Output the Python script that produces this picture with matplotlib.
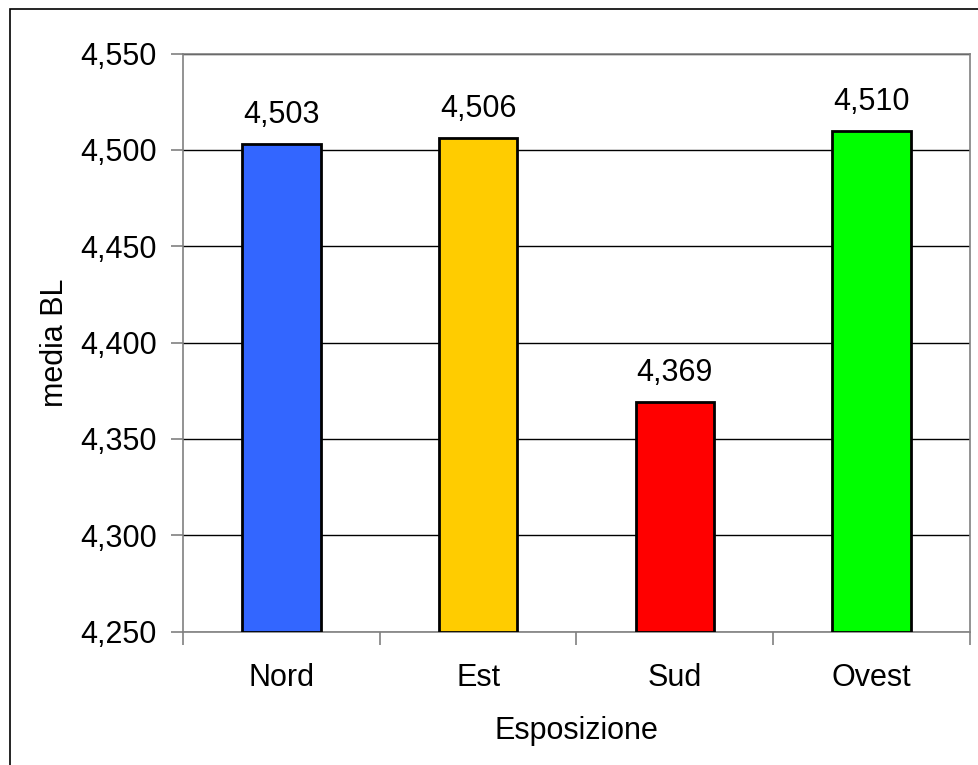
import matplotlib.pyplot as plt
from matplotlib.ticker import FuncFormatter, FixedLocator
from matplotlib.patches import Rectangle
import numpy as np

categories = ['Nord', 'Est', 'Sud', 'Ovest']
values = [4.503, 4.506, 4.369, 4.510]
colors = ['#3366FF', '#FFCC00', '#FF0000', '#00FF00']
yticks = [4.25, 4.30, 4.35, 4.40, 4.45, 4.50, 4.55]

plt.rcParams['font.family'] = ['Liberation Sans', 'DejaVu Sans']
fs = 22

fig = plt.figure(figsize=(9.79, 7.65), dpi=100)
ax = fig.add_axes([183 / 979, 1 - 631.5 / 765, (970 - 183) / 979, (631.5 - 53.5) / 765])

# outer chart border (right and bottom edges fall outside the image)
fig.patches.append(Rectangle((10 / 979, -0.05), 1.0, 1 - 9 / 765 + 0.05,
                             transform=fig.transFigure, fill=False,
                             edgecolor='black', linewidth=1.2))

x = np.arange(len(categories))
ax.bar(x, np.array(values) - yticks[0], bottom=yticks[0], width=0.4,
       color=colors, edgecolor='black', linewidth=2, zorder=3)

for xi, v in zip(x, values):
    ax.annotate(f'{v:.3f}'.replace('.', ','), xy=(xi, v), xytext=(0, 15),
                textcoords='offset points', ha='center', va='baseline',
                fontsize=fs)

ax.set_xlim(-0.5, len(categories) - 0.5)
ax.set_ylim(yticks[0], yticks[-1])
ax.yaxis.set_major_locator(FixedLocator(yticks))
ax.yaxis.set_major_formatter(FuncFormatter(lambda v, pos: f'{v:.3f}'.replace('.', ',')))
ax.grid(axis='y', color='black', linewidth=1, zorder=0)

ax.set_xticks(x)
ax.set_xticklabels(categories)
ax.set_xticks(np.arange(len(categories) + 1) - 0.5, minor=True)
ax.tick_params(axis='x', which='major', length=0, pad=23, labelsize=fs)
ax.tick_params(axis='x', which='minor', length=9, width=1.2, color='#808080')
ax.tick_params(axis='y', length=9, width=1.2, color='#808080', labelsize=fs, pad=10)

for s in ax.spines.values():
    s.set_color('#808080')
    s.set_linewidth(1.2)

ax.set_xlabel('Esposizione', fontsize=fs, labelpad=16)
ax.set_ylabel('media BL', fontsize=fs, labelpad=7)

fig.savefig('out.png', dpi=100)
